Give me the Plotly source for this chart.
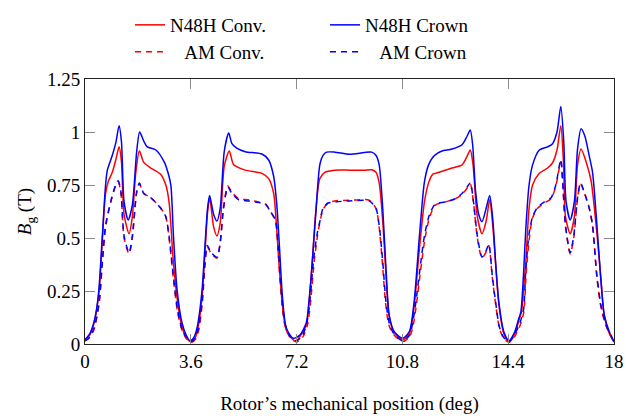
import plotly.graph_objects as go

# ---- data ----
x_n48h_crown = [0, 0.15, 0.31, 0.40, 0.48, 0.59, 0.70, 0.76, 0.93, 1.05, 1.16, 1.24, 1.33, 1.47, 1.61, 1.76, 1.86,
                1.99, 2.12, 2.41, 2.69, 2.82, 2.92, 3.01, 3.13, 3.30, 3.45, 3.58, 3.70, 3.81, 3.98, 4.09, 4.17,
                4.24, 4.38, 4.49, 4.60, 4.74, 4.89, 5.00, 5.15, 5.45, 6.02, 6.25, 6.42, 6.53, 6.62, 6.72, 6.85,
                7.08, 7.31, 7.53, 7.62, 7.70, 7.85, 7.99, 8.10, 8.22, 8.50, 9.00, 9.50, 9.75, 9.90, 10.01, 10.13,
                10.24, 10.35, 10.52, 10.81, 11.04, 11.20, 11.38, 11.55, 11.69, 11.83, 12.00, 12.15, 12.49, 12.83,
                13.00, 13.11, 13.19, 13.29, 13.40, 13.51, 13.65, 13.77, 13.88, 13.97, 14.08, 14.25, 14.42, 14.63,
                14.76, 14.83, 14.92, 15.00, 15.11, 15.23, 15.46, 15.74, 15.91, 16.06, 16.19, 16.29, 16.37, 16.51,
                16.65, 16.76, 16.88, 17.01, 17.16, 17.27, 17.42, 17.54, 17.67, 17.84, 18.00]
y_n48h_crown = [0.02, 0.045, 0.105, 0.17, 0.27, 0.51, 0.75, 0.82, 0.89, 0.95, 1.03, 0.955, 0.67, 0.585, 0.655, 0.91, 1.0,
                0.96, 0.93, 0.915, 0.86, 0.81, 0.75, 0.51, 0.26, 0.10, 0.04, 0.015, 0.03, 0.075, 0.25, 0.48, 0.64,
                0.70, 0.61, 0.58, 0.64, 0.91, 0.995, 0.945, 0.925, 0.907, 0.896, 0.868, 0.79, 0.65, 0.45, 0.22, 0.075,
                0.027, 0.042, 0.10, 0.20, 0.325, 0.61, 0.845, 0.89, 0.905, 0.905, 0.895, 0.903, 0.905, 0.89, 0.845, 0.64,
                0.36, 0.137, 0.058, 0.027, 0.06, 0.20, 0.51, 0.765, 0.845, 0.88, 0.90, 0.91, 0.92, 0.94,
                0.98, 1.01, 0.94, 0.72, 0.61, 0.577, 0.64, 0.70, 0.58, 0.39, 0.20, 0.058, 0.015, 0.06,
                0.12, 0.15, 0.325, 0.545, 0.75, 0.845, 0.915, 0.93, 0.945, 1.0, 1.12, 0.955, 0.67, 0.585,
                0.67, 0.92, 1.015, 0.98, 0.885, 0.81, 0.56, 0.325, 0.137, 0.058, 0.01]

x_n48h_conv = [0, 0.15, 0.31, 0.48, 0.59, 0.70, 0.80, 0.93, 1.05, 1.16, 1.24, 1.33, 1.50, 1.61, 1.73, 1.85, 2.00,
               2.24, 2.58, 2.75, 2.86, 3.00, 3.13, 3.30, 3.45, 3.60, 3.75, 3.85, 3.98, 4.09, 4.17, 4.24, 4.38,
               4.49, 4.60, 4.74, 4.91, 5.06, 5.45, 6.02, 6.25, 6.42, 6.50, 6.60, 6.72, 6.85, 7.08, 7.20, 7.31,
               7.53, 7.62, 7.72, 7.85, 7.99, 8.16, 8.50, 9.00, 9.50, 9.75, 9.90, 10.01, 10.13, 10.24, 10.35,
               10.52, 10.81, 11.04, 11.20, 11.38, 11.55, 11.69, 11.83, 11.92, 12.49, 12.83, 13.00, 13.11, 13.20,
               13.35, 13.51, 13.65, 13.77, 13.88, 13.97, 14.08, 14.25, 14.42, 14.63, 14.76, 14.85, 14.92, 15.00,
               15.11, 15.23, 15.46, 15.74, 15.91, 16.06, 16.19, 16.28, 16.35, 16.51, 16.65, 16.76, 16.88, 17.05,
               17.22, 17.42, 17.56, 17.67, 17.84, 18.00]
y_n48h_conv = [0.02, 0.04, 0.10, 0.25, 0.49, 0.71, 0.77, 0.81, 0.87, 0.93, 0.86, 0.61, 0.52, 0.60, 0.81, 0.91, 0.857,
               0.83, 0.80, 0.75, 0.67, 0.40, 0.22, 0.08, 0.03, 0.01, 0.03, 0.08, 0.22, 0.45, 0.62, 0.69, 0.55,
               0.51, 0.57, 0.84, 0.91, 0.845, 0.82, 0.805, 0.78, 0.71, 0.59, 0.38, 0.18, 0.065, 0.02, 0.015, 0.035,
               0.09, 0.19, 0.36, 0.62, 0.78, 0.81, 0.82, 0.82, 0.82, 0.822, 0.81, 0.76, 0.58, 0.33, 0.13,
               0.055, 0.02, 0.05, 0.18, 0.45, 0.67, 0.76, 0.80, 0.805, 0.83, 0.845, 0.885, 0.915, 0.85,
               0.60, 0.52, 0.58, 0.68, 0.55, 0.38, 0.19, 0.05, 0.01, 0.05, 0.11, 0.15, 0.25, 0.39,
               0.64, 0.75, 0.805, 0.83, 0.855, 0.915, 1.03, 0.86, 0.60, 0.52, 0.60, 0.845, 0.92, 0.86,
               0.77, 0.52, 0.30, 0.13, 0.05, 0.01]

x_am_crown = [0, 0.15, 0.31, 0.48, 0.59, 0.70, 0.87, 1.04, 1.13, 1.22, 1.33, 1.50, 1.61, 1.76, 1.85, 2.00, 2.24,
              2.58, 2.75, 2.86, 3.03, 3.15, 3.30, 3.45, 3.60, 3.75, 3.85, 3.98, 4.08, 4.16, 4.30, 4.49, 4.60,
              4.71, 4.86, 5.00, 5.23, 5.57, 5.91, 6.14, 6.31, 6.48, 6.58, 6.68, 6.80, 7.00, 7.20, 7.40, 7.55,
              7.65, 7.78, 7.90, 7.99, 8.10, 8.27, 8.50, 9.00, 9.67, 9.90, 10.01, 10.13, 10.24, 10.35, 10.50,
              10.80, 11.04, 11.15, 11.26, 11.43, 11.55, 11.72, 11.92, 12.26, 12.60, 12.83, 13.00, 13.11, 13.22,
              13.35, 13.51, 13.65, 13.74, 13.86, 13.97, 14.10, 14.25, 14.42, 14.60, 14.80, 14.92, 15.00, 15.11,
              15.23, 15.40, 15.63, 15.86, 16.02, 16.19, 16.26, 16.35, 16.51, 16.63, 16.76, 16.86, 17.00, 17.16,
              17.27, 17.42, 17.56, 17.73, 18.00]
y_am_crown = [0.015, 0.03, 0.075, 0.20, 0.39, 0.56, 0.67, 0.75, 0.77, 0.72, 0.51, 0.43, 0.51, 0.72, 0.76, 0.71, 0.69,
              0.64, 0.60, 0.51, 0.29, 0.16, 0.07, 0.03, 0.01, 0.03, 0.07, 0.20, 0.38, 0.465, 0.43, 0.41, 0.48,
              0.64, 0.74, 0.71, 0.68, 0.675, 0.667, 0.66, 0.625, 0.585, 0.45, 0.25, 0.10, 0.03, 0.015, 0.04, 0.10,
              0.20, 0.40, 0.52, 0.577, 0.64, 0.665, 0.67, 0.675, 0.675, 0.64, 0.56, 0.39, 0.20, 0.10, 0.05,
              0.015, 0.04, 0.10, 0.20, 0.39, 0.51, 0.61, 0.66, 0.67, 0.685, 0.71, 0.74, 0.76, 0.67,
              0.51, 0.41, 0.44, 0.47, 0.32, 0.20, 0.08, 0.03, 0.01, 0.04, 0.10, 0.16, 0.35, 0.52,
              0.60, 0.645, 0.67, 0.69, 0.75, 0.87, 0.75, 0.56, 0.43, 0.51, 0.69, 0.76, 0.71, 0.64,
              0.56, 0.32, 0.18, 0.09, 0.01]

x_am_conv = [0, 0.15, 0.31, 0.48, 0.59, 0.70, 0.87, 1.04, 1.13, 1.22, 1.33, 1.50, 1.61, 1.76, 1.85, 2.00, 2.24,
             2.58, 2.75, 2.86, 3.03, 3.15, 3.30, 3.45, 3.62, 3.77, 3.87, 3.99, 4.08, 4.16, 4.30, 4.49, 4.60,
             4.71, 4.86, 5.00, 5.23, 5.57, 5.91, 6.14, 6.31, 6.48, 6.57, 6.67, 6.80, 7.00, 7.22, 7.42, 7.57,
             7.67, 7.80, 7.91, 7.99, 8.10, 8.27, 8.50, 9.00, 9.67, 9.90, 10.01, 10.12, 10.23, 10.34, 10.50,
             10.82, 11.05, 11.17, 11.28, 11.45, 11.57, 11.73, 11.92, 12.26, 12.60, 12.83, 13.00, 13.11, 13.22,
             13.35, 13.51, 13.65, 13.74, 13.86, 13.97, 14.10, 14.25, 14.44, 14.62, 14.81, 14.93, 15.01, 15.12,
             15.23, 15.40, 15.63, 15.86, 16.02, 16.19, 16.26, 16.35, 16.51, 16.63, 16.76, 16.86, 17.00, 17.16,
             17.27, 17.42, 17.56, 17.73, 18.00]
y_am_conv = [0.015, 0.03, 0.07, 0.19, 0.38, 0.55, 0.665, 0.745, 0.765, 0.715, 0.50, 0.425, 0.50, 0.715, 0.755, 0.71, 0.69,
             0.64, 0.60, 0.50, 0.28, 0.15, 0.065, 0.025, 0.008, 0.025, 0.065, 0.19, 0.37, 0.46, 0.425, 0.405, 0.475,
             0.635, 0.745, 0.715, 0.685, 0.68, 0.67, 0.66, 0.625, 0.58, 0.44, 0.24, 0.09, 0.025, 0.01, 0.035, 0.09,
             0.19, 0.39, 0.51, 0.572, 0.635, 0.665, 0.675, 0.678, 0.678, 0.64, 0.55, 0.38, 0.19, 0.09, 0.045,
             0.012, 0.035, 0.09, 0.19, 0.38, 0.50, 0.60, 0.655, 0.67, 0.685, 0.705, 0.735, 0.755, 0.665,
             0.50, 0.405, 0.435, 0.465, 0.31, 0.19, 0.075, 0.025, 0.008, 0.035, 0.09, 0.15, 0.33, 0.50,
             0.595, 0.64, 0.665, 0.685, 0.745, 0.86, 0.745, 0.555, 0.425, 0.50, 0.685, 0.755, 0.71, 0.64,
             0.555, 0.31, 0.17, 0.085, 0.01]

x_ticks = [0, 3.6, 7.2, 10.8, 14.4, 18]
x_ticklabels = ["0", "3.6", "7.2", "10.8", "14.4", "18"]
y_ticks = [0, 0.25, 0.5, 0.75, 1, 1.25]
y_ticklabels = ["0", "0.25", "0.5", "0.75", "1", "1.25"]

FONT = "'Liberation Serif', 'Times New Roman', 'DejaVu Serif', serif"
RED = "#ff0000"
BLUE = "#0000ff"
NB = "\u00a0"

fig = go.Figure()
fig.add_trace(go.Scatter(x=x_n48h_conv, y=y_n48h_conv, mode="lines", name="N48H Conv.",
                         line=dict(color=RED, width=1.5, shape="spline", smoothing=0.7), legend="legend"))
fig.add_trace(go.Scatter(x=x_n48h_crown, y=y_n48h_crown, mode="lines", name="N48H Crown",
                         line=dict(color=BLUE, width=1.5, shape="spline", smoothing=0.7), legend="legend"))
fig.add_trace(go.Scatter(x=x_am_conv, y=y_am_conv, mode="lines", name=NB * 3 + "AM Conv.",
                         line=dict(color=RED, width=1.5, dash="6px,5px", shape="spline", smoothing=0.7),
                         legend="legend2"))
fig.add_trace(go.Scatter(x=x_am_crown, y=y_am_crown, mode="lines", name=NB * 3 + "AM Crown",
                         line=dict(color=BLUE, width=1.5, dash="6px,5px", shape="spline", smoothing=0.7),
                         legend="legend2"))

axis_common = dict(showgrid=False, zeroline=False, showline=True, linecolor="#222222", linewidth=1,
                   mirror="ticks", ticks="inside", ticklen=10, tickwidth=1, tickcolor="#8c8c8c",
                   automargin=False,
                   tickfont=dict(family=FONT, size=19, color="black"))

fig.update_xaxes(range=[0, 18], tickvals=x_ticks, ticktext=x_ticklabels,
                 title=dict(text="Rotor’s mechanical position (deg)", font=dict(family=FONT, size=19, color="black"),
                            standoff=25),
                 **axis_common)
fig.update_yaxes(range=[0, 1.25], tickvals=y_ticks, ticktext=y_ticklabels,
                 title=dict(text="<i>B</i><sub>g</sub> (T)", font=dict(family=FONT, size=19, color="black"),
                            standoff=10),
                 **axis_common)

leg_common = dict(orientation="h", xref="container", yref="container", xanchor="left", yanchor="top",
                  entrywidth=150, entrywidthmode="pixels", font=dict(family=FONT, size=19, color="black"),
                  bgcolor="rgba(0,0,0,0)", tracegroupgap=0, itemwidth=30)

fig.update_layout(
    width=626, height=418,
    margin=dict(l=85, r=12, t=79, b=74, autoexpand=False),
    paper_bgcolor="white", plot_bgcolor="white",
    font=dict(family=FONT, size=19, color="black"),
    showlegend=True,
    legend=dict(x=130 / 626, y=1 - 6 / 418, **leg_common),
    legend2=dict(x=130 / 626, y=1 - 33 / 418, **leg_common),
)

fig.write_html("out.html")
